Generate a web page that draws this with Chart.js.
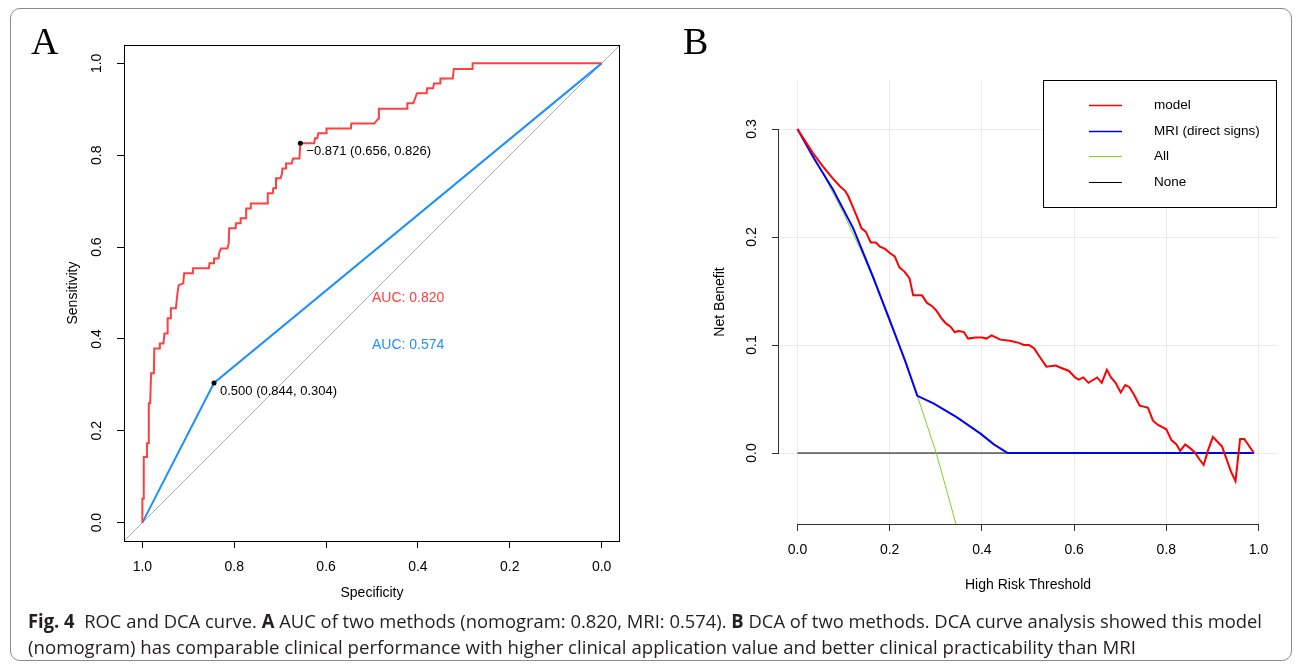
<!DOCTYPE html>
<html>
<head>
<meta charset="utf-8">
<script src="https://cdn.jsdelivr.net/npm/chart.js@4.4.1/dist/chart.umd.min.js"></script>
<style>
body { margin: 0; background: #fff; }
#page { position: relative; width: 1295px; height: 666px; overflow: hidden; background: #fff; }
#frame { position: absolute; left: 10px; top: 8px; width: 1280px; height: 651px; border: 1px solid #8a8a8a; border-radius: 10px; }
#rocCanvas { position: absolute; left: 0; top: 0; }
#dcaCanvas { position: absolute; left: 650px; top: 0; }
.panel { position: absolute; font-family: "Liberation Serif", "DejaVu Serif", serif; font-size: 38px; color: #000; line-height: 1; }
#caption { position: absolute; left: 28px; top: 608px; font-family: "Open Sans", "Noto Sans", sans-serif; font-size: 19px; line-height: 26px; color: #231f20; white-space: nowrap; }
#caption span { display: inline-block; transform-origin: 0 50%; }
#caption b { font-weight: bold; }
</style>
</head>
<body>
<div id="page">
  <div id="frame"></div>
  <canvas id="rocCanvas" width="650" height="610"></canvas>
  <canvas id="dcaCanvas" width="645" height="610"></canvas>
  <div class="panel" style="left:31px;top:22px;">A</div>
  <div class="panel" style="left:683px;top:22px;">B</div>
  <div id="caption"><span id="cap1" data-w="1234"><b>Fig. 4</b>&nbsp; ROC and DCA curve. <b>A</b> AUC of two methods (nomogram: 0.820, MRI: 0.574). <b>B</b> DCA of two methods. DCA curve analysis showed this model</span><br><span id="cap2" data-w="1108">(nomogram) has comparable clinical performance with higher clinical application value and better clinical practicability than MRI</span></div>
</div>
<script>
// ---- panel A: ROC ----
const rocSpec = [1.000,1.000,0.997,0.997,0.992,0.990,0.987,0.986,0.983,0.981,
  0.975,0.974,0.963,0.962,0.954,0.952,0.945,0.945,0.938,0.938,
  0.927,0.924,0.921,0.911,0.909,0.891,0.890,0.855,0.854,0.844,
  0.844,0.834,0.833,0.829,0.815,0.812,0.811,0.797,0.796,0.786,
  0.786,0.774,0.774,0.764,0.764,0.728,0.727,0.716,0.715,0.709,
  0.709,0.699,0.696,0.695,0.687,0.687,0.675,0.672,0.658,0.656,
  0.626,0.624,0.619,0.617,0.600,0.599,0.546,0.545,0.495,0.486,
  0.485,0.423,0.423,0.410,0.402,0.381,0.380,0.367,0.365,0.351,
  0.351,0.324,0.322,0.281,0.281,0.000];
const rocSens = [0.000,0.052,0.052,0.143,0.143,0.173,0.173,0.260,0.260,0.325,
  0.325,0.379,0.379,0.390,0.390,0.412,0.412,0.445,0.445,0.467,
  0.467,0.496,0.517,0.521,0.543,0.543,0.554,0.554,0.565,0.565,
  0.575,0.575,0.586,0.597,0.597,0.608,0.641,0.641,0.652,0.652,
  0.663,0.663,0.684,0.684,0.695,0.695,0.717,0.717,0.728,0.728,
  0.750,0.750,0.760,0.771,0.771,0.782,0.782,0.793,0.793,0.826,
  0.826,0.837,0.837,0.848,0.848,0.858,0.858,0.869,0.869,0.880,
  0.901,0.901,0.913,0.913,0.935,0.935,0.946,0.946,0.956,0.956,
  0.967,0.967,0.988,0.988,1.000,1.000];
const mriSpec = [1.000, 0.844, 0.000];
const mriSens = [0.000, 0.304, 1.000];
const chanceSpec = [1.04, -0.04];
const chanceSens = [-0.04, 1.04];
const cutSpec = [0.656, 0.844];
const cutSens = [0.826, 0.304];
const cutText = ["\u22120.871 (0.656, 0.826)", "0.500 (0.844, 0.304)"];
const aucText = ["AUC: 0.820", "AUC: 0.574"];
const xTicksA = [1.0, 0.8, 0.6, 0.4, 0.2, 0.0];
const yTicksA = [0.0, 0.2, 0.4, 0.6, 0.8, 1.0];

// ---- panel B: DCA ----
const modelT = [0.000,0.034,0.056,0.077,0.092,0.103,0.110,0.121,0.129,0.139,
  0.148,0.159,0.170,0.179,0.190,0.201,0.211,0.221,0.232,0.243,
  0.251,0.259,0.270,0.281,0.292,0.301,0.312,0.322,0.332,0.341,
  0.350,0.361,0.370,0.386,0.401,0.410,0.421,0.440,0.461,0.480,
  0.491,0.502,0.513,0.527,0.540,0.560,0.571,0.589,0.602,0.610,
  0.620,0.631,0.650,0.660,0.671,0.680,0.690,0.701,0.711,0.720,
  0.730,0.742,0.751,0.760,0.771,0.782,0.800,0.811,0.822,0.830,
  0.841,0.850,0.861,0.872,0.881,0.890,0.901,0.912,0.921,0.930,
  0.940,0.950,0.960,0.969,0.990];
const modelNB = [0.300,0.2775,0.265,0.254,0.247,0.243,0.238,0.227,0.219,0.208,
  0.205,0.195,0.195,0.191,0.189,0.185,0.182,0.172,0.168,0.162,
  0.146,0.146,0.146,0.139,0.136,0.132,0.125,0.120,0.117,0.112,
  0.113,0.112,0.106,0.107,0.107,0.106,0.109,0.105,0.104,0.102,
  0.100,0.100,0.097,0.088,0.080,0.081,0.079,0.076,0.070,0.068,
  0.070,0.065,0.070,0.065,0.077,0.070,0.065,0.056,0.063,0.061,
  0.054,0.044,0.043,0.042,0.030,0.026,0.022,0.012,0.008,0.002,
  0.008,0.005,0.001,-0.006,-0.011,0.002,0.015,0.010,0.006,-0.005,
  -0.017,-0.026,0.013,0.013,0.000];
const mriT = [0.000,0.034,0.077,0.121,0.164,0.208,0.233,0.260,0.295,0.346,0.397,0.426,0.456,0.990];
const mriNB = [0.300,0.274,0.244,0.208,0.163,0.114,0.086,0.053,0.046,0.033,0.018,0.008,0.000,0.000];
const allT = [0.000,0.050,0.100,0.150,0.200,0.260,0.301,0.344];
const allNB = [0.300,0.263,0.222,0.176,0.125,0.053,0.000,-0.066];
const noneT = [0.000, 0.990];
const noneNB = [0.000, 0.000];
const dcaLabels = ["model", "MRI (direct signs)", "All", "None"];
const xTicksB = [0.0, 0.2, 0.4, 0.6, 0.8, 1.0];
const yTicksB = [0.0, 0.1, 0.2, 0.3];

const FONT = '"Liberation Sans", Arial, sans-serif';
const X_AXIS_H = 60;   // fixed height of the bottom axis box, so tick labels are not clipped
const pts = (xs, ys) => xs.map((x, i) => ({ x: x, y: ys[i] }));

// squeeze caption lines to the width of the condensed print font
document.querySelectorAll("#caption span").forEach(el => {
    const w = el.getBoundingClientRect().width;
    el.style.transform = "scaleX(" + (Number(el.dataset.w) / w) + ")";
});

function drawYLabels(chart) {
    const { ctx, chartArea, scales } = chart;
    ctx.save();
    ctx.font = "14px " + FONT;
    ctx.fillStyle = "#000";
    ctx.textAlign = "center";
    ctx.textBaseline = "middle";
    scales.y.ticks.forEach(t => {
        ctx.save();
        ctx.translate(chartArea.left - 27, scales.y.getPixelForValue(t.value));
        ctx.rotate(-Math.PI / 2);
        ctx.fillText(t.value.toFixed(1), 0, 0);
        ctx.restore();
    });
    ctx.restore();
}

function drawTitles(chart, xTitle, yTitle, xOff, yOff) {
    const { ctx, chartArea } = chart;
    ctx.save();
    ctx.font = "14px " + FONT;
    ctx.fillStyle = "#000";
    ctx.textAlign = "center";
    ctx.textBaseline = "middle";
    ctx.fillText(xTitle, (chartArea.left + chartArea.right) / 2, chartArea.bottom + xOff);
    ctx.translate(chartArea.left - yOff, (chartArea.top + chartArea.bottom) / 2);
    ctx.rotate(-Math.PI / 2);
    ctx.fillText(yTitle, 0, 0);
    ctx.restore();
}

function axisOpts(ticks, min, max, extra) {
    return Object.assign({
        type: "linear",
        min: min,
        max: max,
        afterBuildTicks: s => { s.ticks = ticks.map(v => ({ value: v })); },
        border: { display: false },
        ticks: { font: { family: FONT, size: 14 }, color: "#000", padding: 11, maxRotation: 0, autoSkip: false, callback: v => v.toFixed(1) }
    }, extra);
}

// ---- ROC chart ----
const rocPlugin = {
    id: "rocExtras",
    afterDraw(chart) {
        const { ctx, chartArea, scales: { x, y } } = chart;
        ctx.save();
        ctx.strokeStyle = "#000";
        ctx.lineWidth = 1;
        ctx.strokeRect(chartArea.left + 0.5, chartArea.top + 0.5, chartArea.right - chartArea.left - 1, chartArea.bottom - chartArea.top);
        ctx.font = "13px " + FONT;
        ctx.fillStyle = "#000";
        ctx.textAlign = "left";
        ctx.textBaseline = "middle";
        cutText.forEach((t, i) => {
            ctx.fillText(t, x.getPixelForValue(cutSpec[i]) + 6, y.getPixelForValue(cutSens[i]) + 8);
        });
        ctx.font = "14px " + FONT;
        ctx.fillStyle = "#ff4040";
        ctx.fillText(aucText[0], x.getPixelForValue(0.5), y.getPixelForValue(0.489));
        ctx.fillStyle = "#1e90ff";
        ctx.fillText(aucText[1], x.getPixelForValue(0.5), y.getPixelForValue(0.386));
        ctx.restore();
        drawYLabels(chart);
        drawTitles(chart, "Specificity", "Sensitivity", 52, 51);
    }
};

new Chart(document.getElementById("rocCanvas"), {
    type: "line",
    data: {
        datasets: [
            { data: pts(cutSpec, cutSens), showLine: false, pointRadius: 2.5, pointBackgroundColor: "#000", pointBorderColor: "#000", borderWidth: 0 },
            { data: pts(rocSpec, rocSens), borderColor: "#ff4040", borderWidth: 2, pointRadius: 0, tension: 0 },
            { data: pts(mriSpec, mriSens), borderColor: "#1e90ff", borderWidth: 2, pointRadius: 0, tension: 0 },
            { data: pts(chanceSpec, chanceSens), borderColor: "#aaaaaa", borderWidth: 1, pointRadius: 0, tension: 0 }
        ]
    },
    options: {
        responsive: false,
        animation: false,
        devicePixelRatio: 1,
        layout: { padding: { left: 124, top: 45, right: 30, bottom: 69 - X_AXIS_H } },
        plugins: { legend: { display: false }, tooltip: { enabled: false } },
        scales: {
            x: axisOpts(xTicksA, -0.04, 1.04, {
                reverse: true,
                afterFit: s => { s.height = X_AXIS_H; },
                grid: { drawOnChartArea: false, drawTicks: true, tickLength: 7, tickColor: "#000", tickWidth: 1 }
            }),
            y: axisOpts(yTicksA, -0.04, 1.04, {
                afterFit: s => { s.width = 0; },
                grid: { drawOnChartArea: false, drawTicks: true, tickLength: 7, tickColor: "#000", tickWidth: 1 },
                ticks: { display: false }
            })
        }
    },
    plugins: [rocPlugin]
});

// ---- DCA chart ----
const dcaColors = ["#ff0000", "#0000ff", "#7ed321", "#000000"];
const dcaWidths = [2, 2, 1, 1];

const dcaPlugin = {
    id: "dcaExtras",
    afterDraw(chart) {
        const { ctx, chartArea, scales: { x, y } } = chart;
        ctx.save();
        ctx.strokeStyle = "#333";
        ctx.lineWidth = 1;
        ctx.beginPath();
        const xb = Math.round(chartArea.bottom) + 0.5;
        ctx.moveTo(x.getPixelForValue(xTicksB[0]), xb);
        ctx.lineTo(x.getPixelForValue(xTicksB[xTicksB.length - 1]), xb);
        const yl = Math.round(chartArea.left) - 0.5;
        ctx.moveTo(yl, y.getPixelForValue(yTicksB[0]));
        ctx.lineTo(yl, y.getPixelForValue(yTicksB[yTicksB.length - 1]));
        ctx.stroke();

        // legend box
        const bw = 233, bh = 127;
        const bx = chartArea.right - bw - 1, by = chartArea.top;
        ctx.fillStyle = "#fff";
        ctx.fillRect(bx, by, bw, bh);
        ctx.strokeStyle = "#000";
        ctx.strokeRect(bx + 0.5, by + 0.5, bw, bh);
        ctx.font = "13.5px " + FONT;
        ctx.textAlign = "left";
        ctx.textBaseline = "middle";
        chart.data.datasets.forEach((ds, i) => {
            const ly = Math.round(by + 25 + i * 25.7) + 0.5;
            ctx.strokeStyle = ds.borderColor;
            ctx.lineWidth = ds.borderWidth === 2 ? 1.6 : 1;
            ctx.beginPath();
            ctx.moveTo(bx + 46, ly);
            ctx.lineTo(bx + 79, ly);
            ctx.stroke();
            ctx.fillStyle = "#000";
            ctx.fillText(ds.label, bx + 111, ly);
        });
        ctx.restore();
        drawYLabels(chart);
        drawTitles(chart, "High Risk Threshold", "Net Benefit", 61, 59);
    }
};

new Chart(document.getElementById("dcaCanvas"), {
    type: "line",
    data: {
        datasets: [
            { label: dcaLabels[0], data: pts(modelT, modelNB), borderColor: dcaColors[0], borderWidth: dcaWidths[0], pointRadius: 0, tension: 0 },
            { label: dcaLabels[1], data: pts(mriT, mriNB), borderColor: dcaColors[1], borderWidth: dcaWidths[1], pointRadius: 0, tension: 0 },
            { label: dcaLabels[2], data: pts(allT, allNB), borderColor: dcaColors[2], borderWidth: dcaWidths[2], pointRadius: 0, tension: 0 },
            { label: dcaLabels[3], data: pts(noneT, noneNB), borderColor: dcaColors[3], borderWidth: dcaWidths[3], pointRadius: 0, tension: 0 }
        ]
    },
    options: {
        responsive: false,
        animation: false,
        devicePixelRatio: 1,
        layout: { padding: { left: 129, top: 80, right: 18, bottom: 86 - X_AXIS_H } },
        plugins: { legend: { display: false }, tooltip: { enabled: false } },
        scales: {
            x: axisOpts(xTicksB, -0.04, 1.04, {
                afterFit: s => { s.height = X_AXIS_H; },
                grid: { color: "#ebebeb", lineWidth: 1, drawTicks: true, tickLength: 7, tickColor: "#333", tickWidth: 1 }
            }),
            y: axisOpts(yTicksB, -0.0657, 0.3454, {
                afterFit: s => { s.width = 0; },
                grid: { color: "#ebebeb", lineWidth: 1, drawTicks: true, tickLength: 7, tickColor: "#333", tickWidth: 1 },
                ticks: { display: false }
            })
        }
    },
    plugins: [dcaPlugin]
});
</script>
</body>
</html>
